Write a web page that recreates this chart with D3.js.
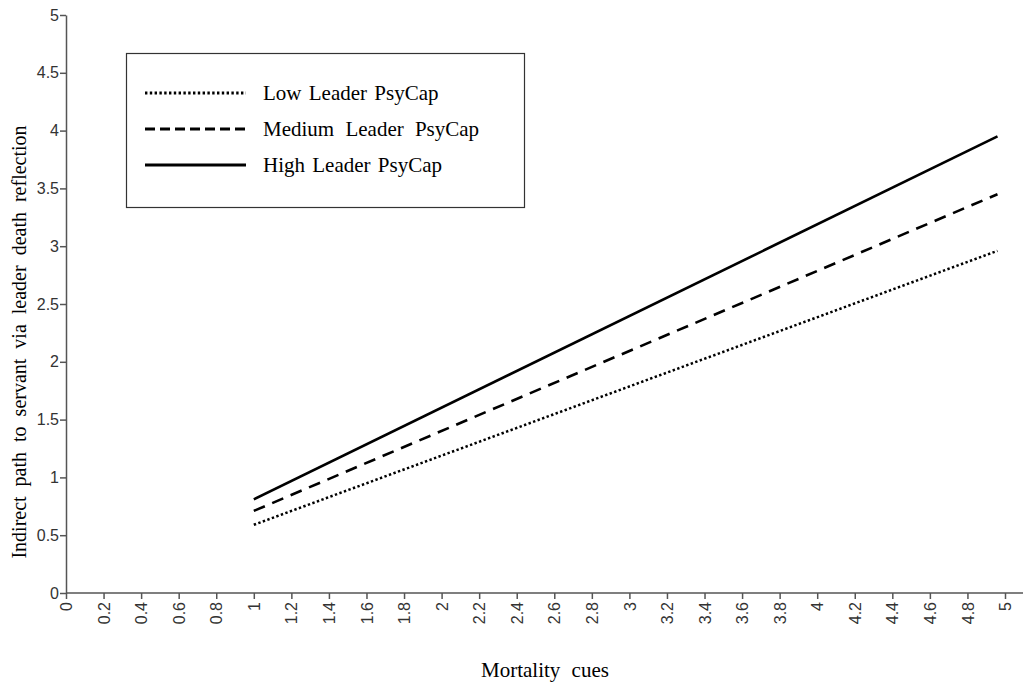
<!DOCTYPE html>
<html>
<head>
<meta charset="utf-8">
<script src="https://cdn.jsdelivr.net/npm/d3@7"></script>
<style>
  body { margin: 0; background: #fff; }
  .tick text { font-family: "Liberation Sans", Arial, sans-serif; font-size: 16px; fill: #333; }
  .domain, .tick line { stroke: #555; stroke-width: 1.5px; }
  .title { font-family: "Liberation Serif", "Times New Roman", serif; font-size: 20px; fill: #000; }
</style>
</head>
<body>
<svg id="chart" width="1030" height="683"></svg>
<script>
// Simple slopes.
var seriesNames = ['Low Leader PsyCap', 'Medium Leader PsyCap', 'High Leader PsyCap'];
var xValues = [1, 4.96];
var lowValues = [0.59, 2.96];
var mediumValues = [0.71, 3.45];
var highValues = [0.81, 3.95];
var xTicks = d3.range(0, 26).map(d => d / 5);
var yTicks = d3.range(0, 11).map(d => d / 2);

var svg = d3.select('#chart');
var m = { left: 66, top: 15, right: 1005, bottom: 593 };

var x = d3.scaleLinear().domain([0, 5]).range([m.left, m.right]);
var y = d3.scaleLinear().domain([0, 5]).range([m.bottom, m.top]);

// Axes.
var xAxis = svg.append('g')
  .attr('transform', 'translate(0,' + m.bottom + ')')
  .call(d3.axisBottom(x).tickValues(xTicks).tickFormat(d3.format('~g')).tickSize(6).tickSizeOuter(0));
xAxis.select('.domain').attr('d', 'M' + m.left + ',0H' + (m.right + 18));
xAxis.selectAll('.tick text')
  .attr('transform', 'rotate(-90)')
  .attr('x', -9)
  .attr('y', 0)
  .attr('dy', '0.35em')
  .style('text-anchor', 'end');

svg.append('g')
  .attr('transform', 'translate(' + m.left + ',0)')
  .call(d3.axisLeft(y).tickValues(yTicks).tickFormat(d3.format('~g')).tickSize(6).tickSizeOuter(0))
  .selectAll('.tick text')
  .attr('x', -7);

// Lines.
var styles = [
  { dash: '2.4,2.4', width: 2.5 },
  { dash: '12,8', width: 2.6 },
  { dash: null, width: 2.6 }
];
var series = [lowValues, mediumValues, highValues];
var line = d3.line().x((d, i) => x(xValues[i])).y(d => y(d));

svg.selectAll('path.series')
  .data(series)
  .enter().append('path')
  .attr('class', 'series')
  .attr('d', line)
  .style('fill', 'none')
  .style('stroke', '#000')
  .style('stroke-width', (d, i) => styles[i].width)
  .style('stroke-dasharray', (d, i) => styles[i].dash);

// Legend.
var legend = svg.append('g');
legend.append('rect')
  .attr('x', 126.5).attr('y', 53.5)
  .attr('width', 398).attr('height', 154)
  .style('fill', '#fff')
  .style('stroke', '#333')
  .style('stroke-width', 1.2);

seriesNames.forEach(function (name, i) {
  var ly = 93 + i * 36;
  legend.append('line')
    .attr('x1', 145).attr('x2', 246)
    .attr('y1', ly).attr('y2', ly)
    .style('stroke', '#000')
    .style('stroke-width', styles[i].width + 0.4)
    .style('stroke-dasharray', i === 1 ? '10,5' : styles[i].dash);
  legend.append('text')
    .attr('class', 'title')
    .attr('x', 263).attr('y', ly)
    .attr('dy', '0.33em')
    .style('font-size', '21px')
    .style('word-spacing', i === 1 ? '6px' : '2px')
    .text(name);
});

// Axis titles.
svg.append('text')
  .attr('class', 'title')
  .attr('transform', 'translate(26,' + 342 + ') rotate(-90)')
  .style('text-anchor', 'middle')
  .style('word-spacing', '5px')
  .text('Indirect path to servant via leader death reflection');

svg.append('text')
  .attr('class', 'title')
  .attr('x', 545).attr('y', 677)
  .style('text-anchor', 'middle')
  .style('font-size', '21px')
  .style('word-spacing', '6px')
  .text('Mortality cues');
</script>
</body>
</html>
